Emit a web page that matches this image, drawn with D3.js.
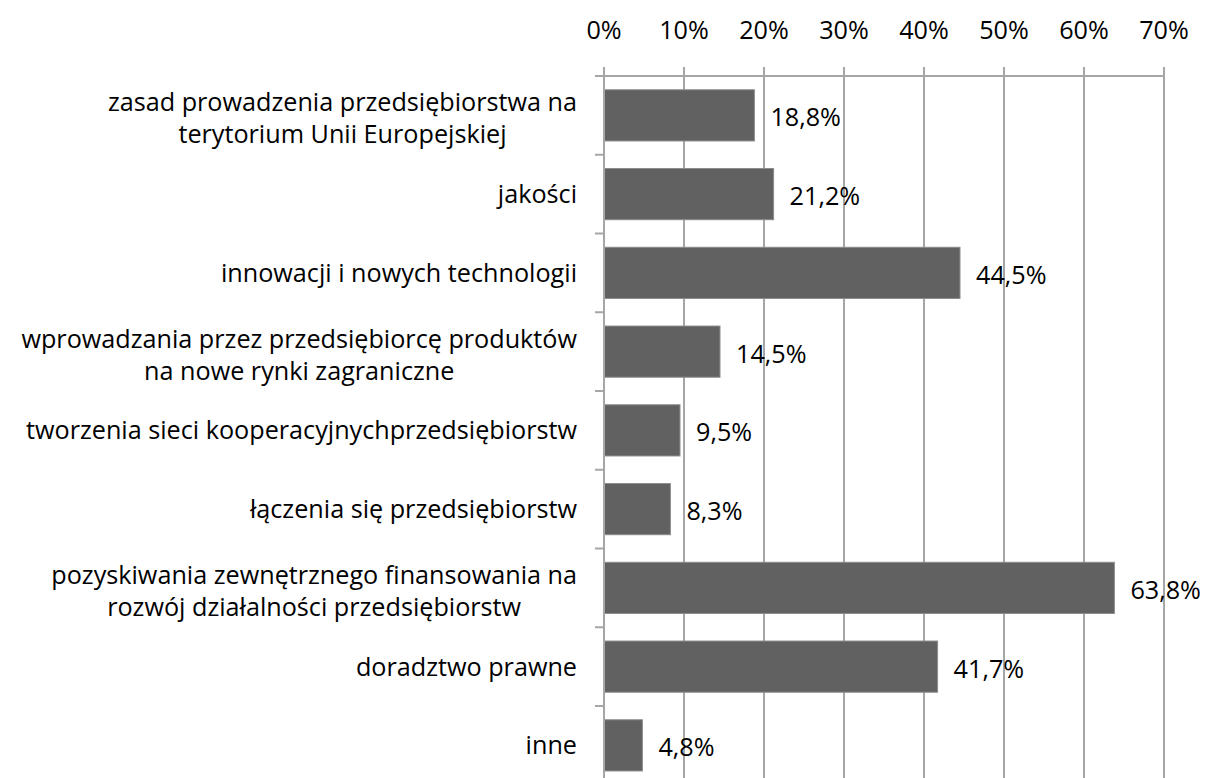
<!DOCTYPE html>
<html>
<head>
<meta charset="utf-8">
<script src="https://cdn.jsdelivr.net/npm/d3@7"></script>
<style>
  body { margin: 0; background: #fff; }
  svg { display: block; }
  text { font-family: "Open Sans", "DejaVu Sans", sans-serif; fill: #000; }
</style>
</head>
<body>
<script>
var categories = [
  ["zasad prowadzenia przedsiębiorstwa na", "terytorium Unii Europejskiej"],
  ["jakości"],
  ["innowacji i nowych technologii"],
  ["wprowadzania przez przedsiębiorcę produktów", "na nowe rynki zagraniczne"],
  ["tworzenia sieci kooperacyjnychprzedsiębiorstw"],
  ["łączenia się przedsiębiorstw"],
  ["pozyskiwania zewnętrznego finansowania na", "rozwój działalności przedsiębiorstw"],
  ["doradztwo prawne"],
  ["inne"]
];
var values = [18.8, 21.2, 44.5, 14.5, 9.5, 8.3, 63.8, 41.7, 4.8];
var tickValues = [0, 10, 20, 30, 40, 50, 60, 70];

var width = 1206, height = 778;
var fontSize = 25.2;
var gridColor = "#a6a6a6";

var svg = d3.select("body").append("svg")
  .attr("width", width)
  .attr("height", height);

var x = d3.scaleLinear().domain([0, 70]).range([604, 1164]);
var y = d3.scaleBand()
  .domain(d3.range(categories.length))
  .range([76, 76 + 78.75 * categories.length])
  .paddingInner(0.35)
  .paddingOuter(0.175);

// vertical gridlines + top axis ticks
svg.append("g")
  .selectAll("line")
  .data(tickValues)
  .enter().append("line")
  .attr("x1", d => x(d)).attr("x2", d => x(d))
  .attr("y1", 67).attr("y2", height)
  .attr("stroke", gridColor)
  .attr("stroke-width", 2);

// top axis line
svg.append("line")
  .attr("x1", 595).attr("x2", x(70))
  .attr("y1", 76).attr("y2", 76)
  .attr("stroke", gridColor)
  .attr("stroke-width", 2);

// top tick labels
svg.append("g")
  .selectAll("text")
  .data(tickValues)
  .enter().append("text")
  .attr("x", d => x(d))
  .attr("y", 39)
  .attr("text-anchor", "middle")
  .style("font-size", fontSize + "px")
  .text(d => d + "%");

// left category ticks (band boundaries)
svg.append("g")
  .selectAll("line")
  .data(d3.range(1, categories.length))
  .enter().append("line")
  .attr("x1", 595).attr("x2", 604)
  .attr("y1", d => 76 + d * y.step()).attr("y2", d => 76 + d * y.step())
  .attr("stroke", gridColor)
  .attr("stroke-width", 2);

// bars
svg.append("g")
  .selectAll("rect")
  .data(values)
  .enter().append("rect")
  .attr("x", x(0))
  .attr("y", (d, i) => y(i))
  .attr("width", d => x(d) - x(0))
  .attr("height", y.bandwidth())
  .attr("fill", "#616161")
  .attr("stroke", "#8c8c8c")
  .attr("stroke-width", 1);

// y axis line
svg.append("line")
  .attr("x1", x(0)).attr("x2", x(0))
  .attr("y1", 76).attr("y2", height)
  .attr("stroke", gridColor)
  .attr("stroke-width", 2);

// value labels
svg.append("g")
  .selectAll("text")
  .data(values)
  .enter().append("text")
  .attr("x", d => x(d) + 16)
  .attr("y", (d, i) => y(i) + y.bandwidth() / 2 + 11)
  .style("font-size", fontSize + "px")
  .text(d => d3.format(".1f")(d).replace(".", ",") + "%");

// category labels: block right aligned, lines centred within block
var labelRight = 577;
var lineH = 32;
categories.forEach(function(lines, i) {
  var g = svg.append("g");
  var cy = y(i) + y.bandwidth() / 2;
  var texts = lines.map(function(t, j) {
    return g.append("text")
      .attr("y", cy + 9 + (lines.length > 1 ? 3 : 0) + (j - (lines.length - 1) / 2) * lineH)
      .attr("text-anchor", "middle")
      .style("font-size", fontSize + "px")
      .text(t);
  });
  var maxW = d3.max(texts, t => t.node().getComputedTextLength());
  texts.forEach(t => t.attr("x", labelRight - maxW / 2));
});
</script>
</body>
</html>
